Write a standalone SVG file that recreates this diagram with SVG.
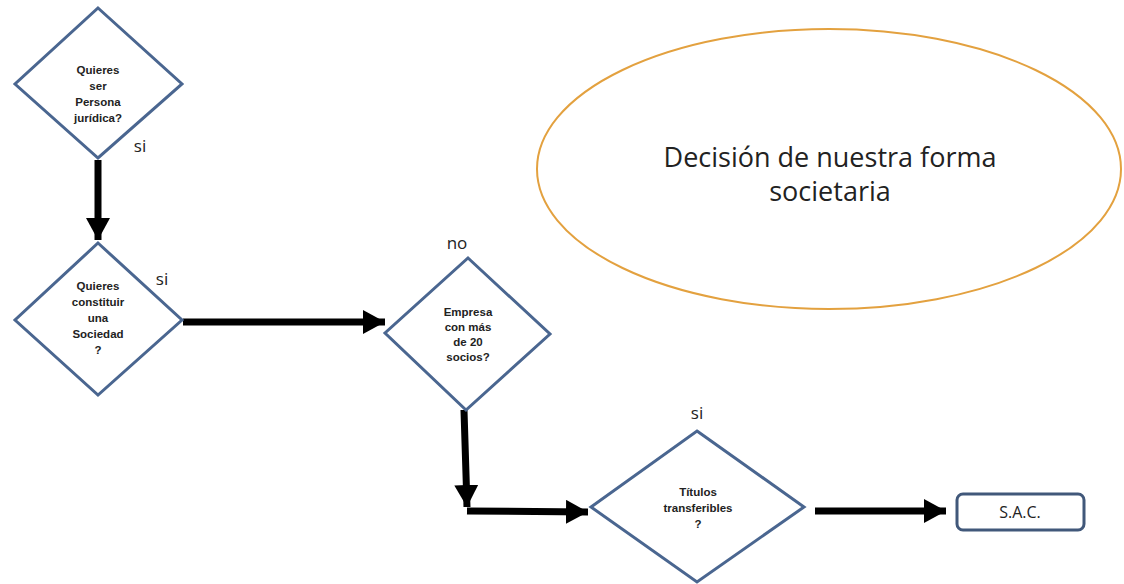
<svg xmlns="http://www.w3.org/2000/svg" width="1124" height="584" viewBox="0 0 1124 584">
<style>
.dia{fill:#ffffff;stroke:#4a6690;stroke-width:3;stroke-linejoin:miter}
.dt{font-family:"Liberation Sans",Arial,sans-serif;font-weight:bold;font-size:11.5px;fill:#222;text-anchor:middle}
.lbl{font-family:"Open Sans","Liberation Sans",sans-serif;font-size:17px;fill:#222;text-anchor:middle}
.conn{fill:none;stroke:#000;stroke-width:7}
.big{font-family:"Open Sans","Liberation Sans",sans-serif;font-size:27px;fill:#222;text-anchor:middle}
</style>
<defs>
<marker id="ah" markerUnits="userSpaceOnUse" markerWidth="24" markerHeight="24" refX="22" refY="12" orient="auto">
<path d="M0,0 L22,12 L0,24 Z" fill="#000"/>
</marker>
</defs>
<rect width="1124" height="584" fill="#ffffff"/>
<g id="title">
<ellipse cx="829" cy="169" rx="292" ry="140" fill="#ffffff" stroke="#e3a13f" stroke-width="2"/>
<text class="big" x="830" y="167">Decisión de nuestra forma</text>
<text class="big" x="830" y="201">societaria</text>
</g>
<g id="connectors">
<path class="conn" d="M98,160 L98,240" marker-end="url(#ah)"/>
<path class="conn" d="M183,322 L385,322" marker-end="url(#ah)"/>
<path class="conn" d="M464,410 L467,507" marker-end="url(#ah)"/>
<path class="conn" d="M467,511 L588,512" marker-end="url(#ah)"/>
<path class="conn" d="M815,511 L946,511" marker-end="url(#ah)"/>
</g>
<g id="n1">
<polygon class="dia" points="98,8 182,84 98,158 15,84"/>
<text class="dt" x="98" y="74">Quieres</text>
<text class="dt" x="98" y="90">ser</text>
<text class="dt" x="98" y="106">Persona</text>
<text class="dt" x="98" y="122">jurídica?</text>
<text class="lbl" x="140" y="152">si</text>
</g>
<g id="n2">
<polygon class="dia" points="98,243 182,320 98,395 15,320"/>
<text class="dt" x="98" y="290">Quieres</text>
<text class="dt" x="98" y="306">constituir</text>
<text class="dt" x="98" y="322">una</text>
<text class="dt" x="98" y="338">Sociedad</text>
<text class="dt" x="98" y="354">?</text>
<text class="lbl" x="162" y="285">si</text>
</g>
<g id="n3">
<polygon class="dia" points="468,258 550,334 466,410 385,333"/>
<text class="dt" x="468" y="316">Empresa</text>
<text class="dt" x="468" y="331">con más</text>
<text class="dt" x="468" y="346">de 20</text>
<text class="dt" x="468" y="361">socios?</text>
<text class="lbl" x="457" y="249">no</text>
</g>
<g id="n4">
<polygon class="dia" points="697,431 804,507 697,582 591,507"/>
<text class="dt" x="698" y="496">Títulos</text>
<text class="dt" x="698" y="512">transferibles</text>
<text class="dt" x="698" y="528">?</text>
<text class="lbl" x="697" y="419">si</text>
</g>
<g id="n5">
<rect x="957" y="494" width="127" height="36" rx="6" ry="6" fill="#ffffff" stroke="#41587a" stroke-width="3"/>
<text class="lbl" x="1020" y="518" style="font-size:16px">S.A.C.</text>
</g>
</svg>
